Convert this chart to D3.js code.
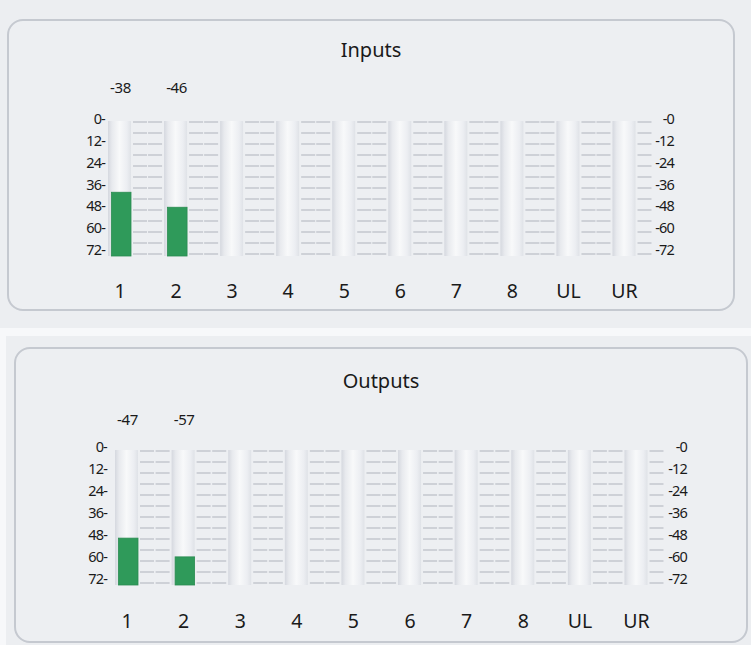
<!DOCTYPE html>
<html>
<head>
<meta charset="utf-8">
<script src="https://cdn.jsdelivr.net/npm/d3@7"></script>
<style>
  html, body { margin: 0; padding: 0; background: #f7f8fa; }
  svg { display: block; }
  text { font-family: "Noto Sans", "Open Sans", sans-serif; fill: #1a1a1a; }
</style>
</head>
<body>
<svg id="chart" width="751" height="645"></svg>
<script>
// ---- data ----
const categories = ["1", "2", "3", "4", "5", "6", "7", "8", "UL", "UR"];
const inputLevels = [-38, -46, null, null, null, null, null, null, null, null];
const outputLevels = [-47, -57, null, null, null, null, null, null, null, null];
const leftTickLabels = [0, 12, 24, 36, 48, 60, 72];
const rightTickLabels = [0, 12, 24, 36, 48, 60, 72];
const gridSteps = [0, 6, 12, 18, 24, 30, 36, 42, 48, 54, 60, 66, 72];
const panelTitles = ["Inputs", "Outputs"];

// ---- layout ----
const W = 751, H = 645;
const svg = d3.select("#chart");

const defs = svg.append("defs");
const grad = defs.append("linearGradient").attr("id", "trackGrad")
  .attr("x1", "0%").attr("x2", "100%").attr("y1", "0%").attr("y2", "0%");
grad.append("stop").attr("offset", "0%").attr("stop-color", "#d5d8df");
grad.append("stop").attr("offset", "18%").attr("stop-color", "#e8eaee");
grad.append("stop").attr("offset", "50%").attr("stop-color", "#f8f9fa");
grad.append("stop").attr("offset", "82%").attr("stop-color", "#eceef2");
grad.append("stop").attr("offset", "100%").attr("stop-color", "#dfe2e7");

// backgrounds
svg.append("rect").attr("x", 0).attr("y", 0).attr("width", W).attr("height", 328).attr("fill", "#eceef1");
svg.append("rect").attr("x", 6).attr("y", 336).attr("width", W - 6).attr("height", H - 336).attr("fill", "#eceef1");

const panels = [
  { title: panelTitles[0], values: inputLevels,
    box: [8, 20, 734, 310], x0: 119.5, x1: 624, yTop: 121, yBot: 256,
    labTop: 119, labBot: 250, titleY: 57, valueY: 93, catY: 298,
    leftX: 105, rightX: 674 },
  { title: panelTitles[1], values: outputLevels,
    box: [15, 348, 747, 642], x0: 126.5, x1: 636, yTop: 450, yBot: 585,
    labTop: 447, labBot: 579, titleY: 388, valueY: 425, catY: 628,
    leftX: 107, rightX: 687 }
];

const trackW = 23;

panels.forEach(p => {
  const g = svg.append("g");
  const [bx0, by0, bx1, by1] = p.box;
  g.append("rect")
    .attr("x", bx0).attr("y", by0).attr("width", bx1 - bx0).attr("height", by1 - by0)
    .attr("rx", 15).attr("ry", 15)
    .attr("fill", "#edeff2").attr("stroke", "#c5c9d0").attr("stroke-width", 2);

  const x = d3.scalePoint().domain(categories).range([p.x0, p.x1]);
  const y = d3.scaleLinear().domain([0, 72]).range([p.yTop, p.yBot]);
  const yLab = d3.scaleLinear().domain([0, 72]).range([p.labTop, p.labBot]);
  const yGrid = d3.scaleLinear().domain([0, 72]).range([p.yTop + 1, p.yBot - 2]);

  // title
  g.append("text").attr("x", (bx0 + bx1) / 2).attr("y", p.titleY)
    .attr("text-anchor", "middle").attr("font-size", 20).text(p.title);

  // dashed grid segments between tracks
  const segs = [];
  categories.forEach((c, i) => {
    const right = x(c) + trackW / 2;
    segs.push([right + 2, right + 16]);
    if (i < categories.length - 1) {
      const nextLeft = x(categories[i + 1]) - trackW / 2;
      segs.push([nextLeft - 16, nextLeft - 2]);
    }
  });
  const gridG = g.append("g");
  gridSteps.forEach(v => {
    segs.forEach(s => {
      gridG.append("line")
        .attr("x1", s[0]).attr("x2", s[1])
        .attr("y1", yGrid(v)).attr("y2", yGrid(v))
        .attr("stroke", "#c3c7ce").attr("stroke-width", 1.5);
    });
  });

  // tracks
  g.selectAll(".track").data(categories).join("rect")
    .attr("x", d => x(d) - trackW / 2).attr("y", y(0))
    .attr("width", trackW).attr("height", y(72) - y(0))
    .attr("fill", "url(#trackGrad)");

  // level bars
  const levels = categories.map((c, i) => ({ c, v: p.values[i] })).filter(d => d.v !== null);
  g.selectAll(".bar").data(levels).join("rect")
    .attr("x", d => x(d.c) - trackW / 2 + 3.5)
    .attr("y", d => y(-d.v))
    .attr("width", trackW - 3.5)
    .attr("height", d => y(72) - y(-d.v))
    .attr("fill", "#2f9a5a").attr("stroke", "#2a8c51").attr("stroke-width", 0.8);

  // value labels
  g.selectAll(".val").data(levels).join("text")
    .attr("x", d => x(d.c) + 1).attr("y", p.valueY)
    .attr("text-anchor", "middle").attr("font-size", 15).attr("letter-spacing", -0.4)
    .text(d => d.v);

  // left axis
  const la = g.append("g").attr("transform", `translate(${p.leftX},0)`)
    .call(d3.axisLeft(yLab).tickValues(leftTickLabels).tickSize(0).tickPadding(0)
      .tickFormat(d => d + "-"));
  la.select(".domain").remove();
  la.selectAll("text").attr("font-size", 14.5).attr("fill", "#111")
    .attr("font-family", "'Noto Sans', sans-serif").attr("letter-spacing", -0.8);

  // right axis
  const ra = g.append("g").attr("transform", `translate(${p.rightX},0)`)
    .call(d3.axisRight(yLab).tickValues(rightTickLabels).tickSize(0).tickPadding(0)
      .tickFormat(d => "-" + d));
  ra.select(".domain").remove();
  ra.selectAll("text").attr("font-size", 14.5).attr("fill", "#111")
    .attr("text-anchor", "end")
    .attr("font-family", "'Noto Sans', sans-serif").attr("letter-spacing", -0.8);

  // category labels
  const ba = g.append("g").attr("transform", `translate(0,${p.catY})`)
    .call(d3.axisBottom(x).tickSize(0).tickPadding(0));
  ba.select(".domain").remove();
  ba.selectAll("text").attr("font-size", 19.5).attr("fill", "#1a1a1a")
    .attr("dy", 0).attr("font-family", "'Noto Sans', sans-serif");
});
</script>
</body>
</html>
